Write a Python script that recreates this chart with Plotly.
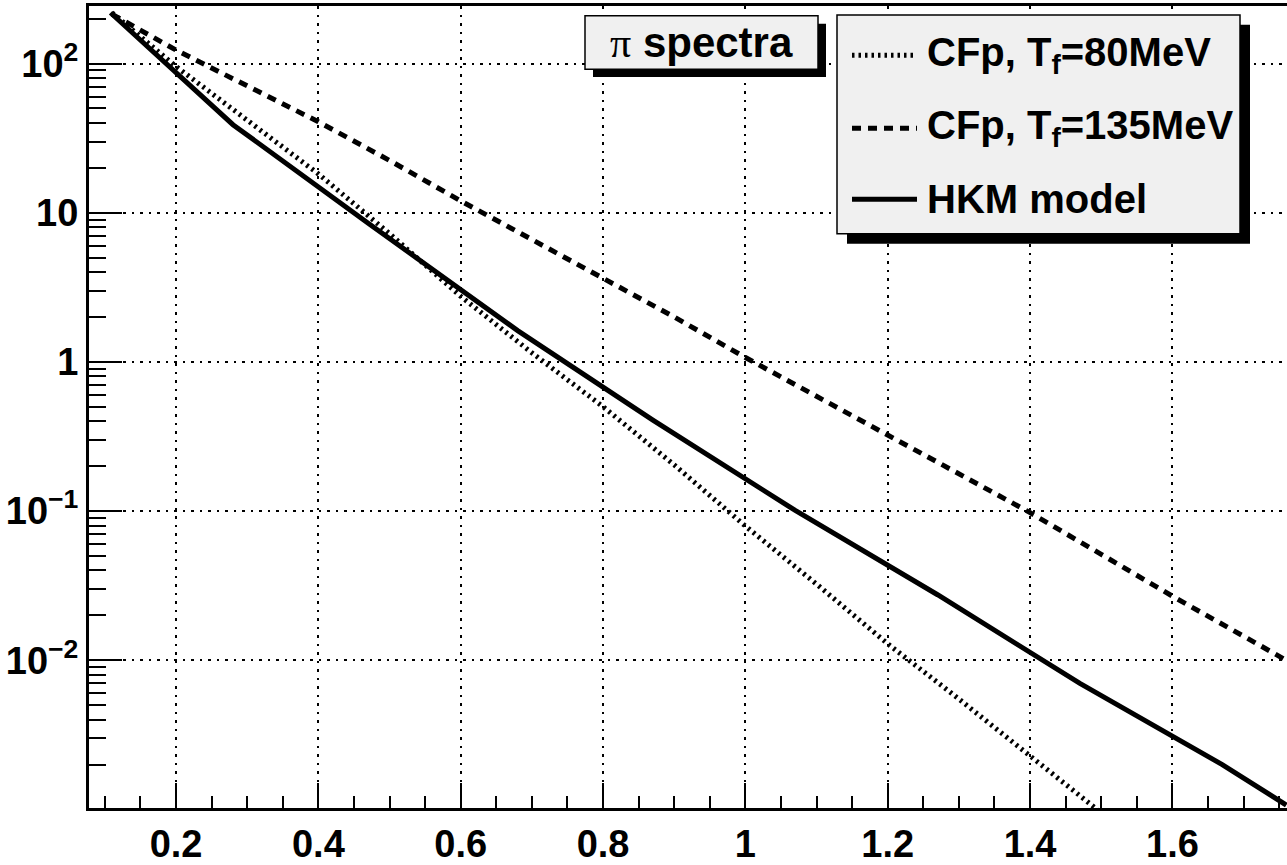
import plotly.graph_objects as go

# --- pion transverse-momentum spectra ---------------------------------------
# CFp with freeze-out temperature 80 MeV
pt_cf80 = [0.11, 0.2, 0.3, 0.4, 0.5, 0.6, 0.7, 0.8, 0.9, 1.0, 1.1, 1.2, 1.3, 1.4, 1.5]
cf80 = [219, 95.5, 41.7, 18.2, 7.24, 2.75, 1.15, 0.501, 0.204, 0.0794,
        0.0324, 0.0129, 0.00550, 0.00229, 0.00095]

# CFp with freeze-out temperature 135 MeV
pt_cf135 = [0.11, 0.2, 0.3, 0.4, 0.5, 0.6, 0.7, 0.8, 0.9, 1.0, 1.1, 1.2,
            1.3, 1.4, 1.5, 1.6, 1.7, 1.76]
cf135 = [214, 123, 70.8, 40.7, 22.4, 12.0, 6.61, 3.63, 2.00, 1.07, 0.589,
         0.324, 0.178, 0.0977, 0.0513, 0.0269, 0.0145, 0.0100]

# HKM model
pt_hkm = [0.108, 0.28, 0.47, 0.68, 0.87, 1.07, 1.27, 1.47, 1.67, 1.76]
hkm = [219, 38.9, 8.51, 1.62, 0.407, 0.101, 0.0275, 0.0070, 0.0020, 0.00107]

series_names = ["CFp, T<sub>f</sub>=80MeV", "CFp, T<sub>f</sub>=135MeV", "HKM model"]

y_tickvals = [0.01, 0.1, 1, 10, 100]
y_ticktext = ["10<sup>−2</sup>", "10<sup>−1</sup>", "1", "10", "10<sup>2</sup>"]
y_minorvals = [k * 10.0 ** d for d in range(-3, 3) for k in range(2, 10)]

# --- geometry ----------------------------------------------------------------
W, H = 1287, 865
ML, MR, MT, MB = 89, 0, 6, 46
PW, PH = W - ML - MR, H - MT - MB

def px(x):
    return (x - ML) / PW

def py(y):
    return (H - MB - y) / PH

FONT = "Liberation Sans"
DOT = "2.5px,4px"
DASH = "9px,7px"
LW = 5

fig = go.Figure()
fig.add_trace(go.Scatter(x=pt_cf80, y=cf80, mode="lines", name=series_names[0],
                         line=dict(color="black", width=LW, dash=DOT)))
fig.add_trace(go.Scatter(x=pt_cf135, y=cf135, mode="lines", name=series_names[1],
                         line=dict(color="black", width=LW, dash=DASH)))
fig.add_trace(go.Scatter(x=pt_hkm, y=hkm, mode="lines", name=series_names[2],
                         line=dict(color="black", width=LW)))

grid = dict(showgrid=True, gridcolor="black", gridwidth=2, griddash="2.5px,6px")
tickfont = dict(family=FONT, size=38, color="black", weight="bold")

fig.update_xaxes(
    range=[0.0777, 1.761], tick0=0, dtick=0.2, ticks="inside", ticklen=25,
    tickwidth=2, tickcolor="black", showline=True, linewidth=3, linecolor="black",
    mirror=True, zeroline=False, tickfont=tickfont,
    minor=dict(dtick=0.05, tick0=0, ticks="inside", ticklen=12, tickwidth=2,
               tickcolor="black", showgrid=False),
    **grid,
)
fig.update_yaxes(
    type="log", range=[-2.99, 2.3855], tickmode="array", tickvals=y_tickvals,
    ticktext=y_ticktext, ticks="inside", ticklen=33, tickwidth=2, tickcolor="black",
    showline=True, linewidth=3, linecolor="black", zeroline=False, tickfont=tickfont,
    minor=dict(tickmode="array", tickvals=y_minorvals, ticks="inside", ticklen=17,
               tickwidth=2, tickcolor="black", showgrid=False),
    **grid,
)

shapes = []
annotations = []

def boxed(x0, y0, x1, y1, shadow):
    shapes.append(dict(type="rect", xref="paper", yref="paper", layer="above",
                       x0=px(x0 + shadow), x1=px(x1 + shadow),
                       y0=py(y0 + shadow), y1=py(y1 + shadow),
                       fillcolor="black", line=dict(width=0)))
    shapes.append(dict(type="rect", xref="paper", yref="paper", layer="above",
                       x0=px(x0), x1=px(x1), y0=py(y0), y1=py(y1),
                       fillcolor="#f0f0f0", line=dict(color="black", width=1.5)))

# title box
boxed(585, 16, 818, 70, 8)
annotations.append(dict(
    xref="paper", yref="paper", x=px(701), y=py(43), xanchor="center", yanchor="middle",
    showarrow=False,
    text="<span style='font-family:Liberation Serif;font-weight:normal'>π</span> <b>spectra</b>",
    font=dict(family=FONT, size=42, color="black"),
))

# legend box
boxed(837, 15, 1240, 237, 10)
rows_y = [56, 130, 202]
dashes = [DOT, DASH, "solid"]
for name, yy, dsh in zip(series_names, rows_y, dashes):
    shapes.append(dict(type="line", xref="paper", yref="paper", layer="above",
                       x0=px(852), x1=px(917), y0=py(yy), y1=py(yy),
                       line=dict(color="black", width=LW, dash=dsh)))
    annotations.append(dict(
        xref="paper", yref="paper", x=px(925), y=py(yy), xanchor="left",
        yanchor="middle", showarrow=False, text="<b>" + name + "</b>",
        font=dict(family=FONT, size=40, color="black"),
    ))

fig.update_layout(
    width=W, height=H, margin=dict(l=ML, r=MR, t=MT, b=MB),
    paper_bgcolor="white", plot_bgcolor="white", showlegend=False,
    shapes=shapes, annotations=annotations,
)

fig.write_html("out.html")
